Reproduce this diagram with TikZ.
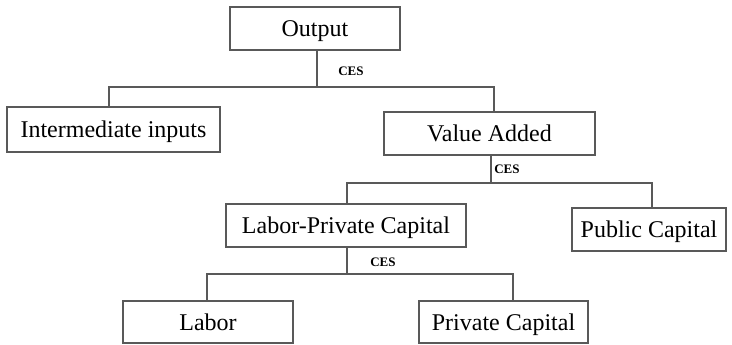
\documentclass[tikz,border=0pt]{standalone}
\usepackage{fontspec}
\setmainfont{Liberation Serif}
\definecolor{boxline}{rgb}{0.35,0.35,0.35}

\begin{document}
\begin{tikzpicture}[x=1pt, y=-1pt,
    box/.style={draw=boxline, line width=1.4pt, inner sep=0pt, text height=16pt, text depth=0pt,
      font=\fontsize{24}{28}\selectfont},
    link/.style={draw=boxline, line width=1.4pt},
    ces/.style={font=\fontsize{13}{15}\selectfont\bfseries, inner sep=0pt}]
            \useasboundingbox (0,0) rectangle (732,345);

            \node[box, minimum width=170pt, minimum height=43pt] (output) at (315,28.5) {Output};
            \node[box, minimum width=213pt, minimum height=45pt] (inter) at (113.5,129.5) {Intermediate inputs};
            \node[box, minimum width=211pt, minimum height=43pt] (value) at (489.5,133.5) {Value Added};
            \node[box, minimum width=240pt, minimum height=43pt] (lpc) at (346,225.5) {Labor-Private Capital};
            \node[box, minimum width=154pt, minimum height=43pt] (pubcap) at (649,229.5) {Public Capital};
            \node[box, minimum width=170pt, minimum height=42pt] (labor) at (208,322) {Labor};
            \node[box, minimum width=169pt, minimum height=42pt] (privcap) at (503.5,322) {Private Capital};

            \coordinate (b1l) at (109,87);
            \coordinate (b1r) at (494,87);
            \coordinate (b2l) at (347,183);
            \coordinate (b2r) at (652,183);
            \coordinate (b3l) at (207,274);
            \coordinate (b3r) at (513,274);

            \draw[link] (output.south -| 317,0) -- (317,87);
            \draw[link] (inter.north -| b1l) -- (b1l) -- (b1r) -- (b1r |- value.north);
            \draw[link] (value.south -| 491,0) -- (491,183);
            \draw[link] (lpc.north -| b2l) -- (b2l) -- (b2r) -- (b2r |- pubcap.north);
            \draw[link] (lpc.south -| 347,0) -- (347,274);
            \draw[link] (labor.north -| b3l) -- (b3l) -- (b3r) -- (b3r |- privcap.north);

            \node[ces] (ces1) at (351,71) {CES};
            \node[ces] (ces2) at (507,169) {CES};
            \node[ces] (ces3) at (383,262) {CES};
        \end{tikzpicture}
\end{document}
